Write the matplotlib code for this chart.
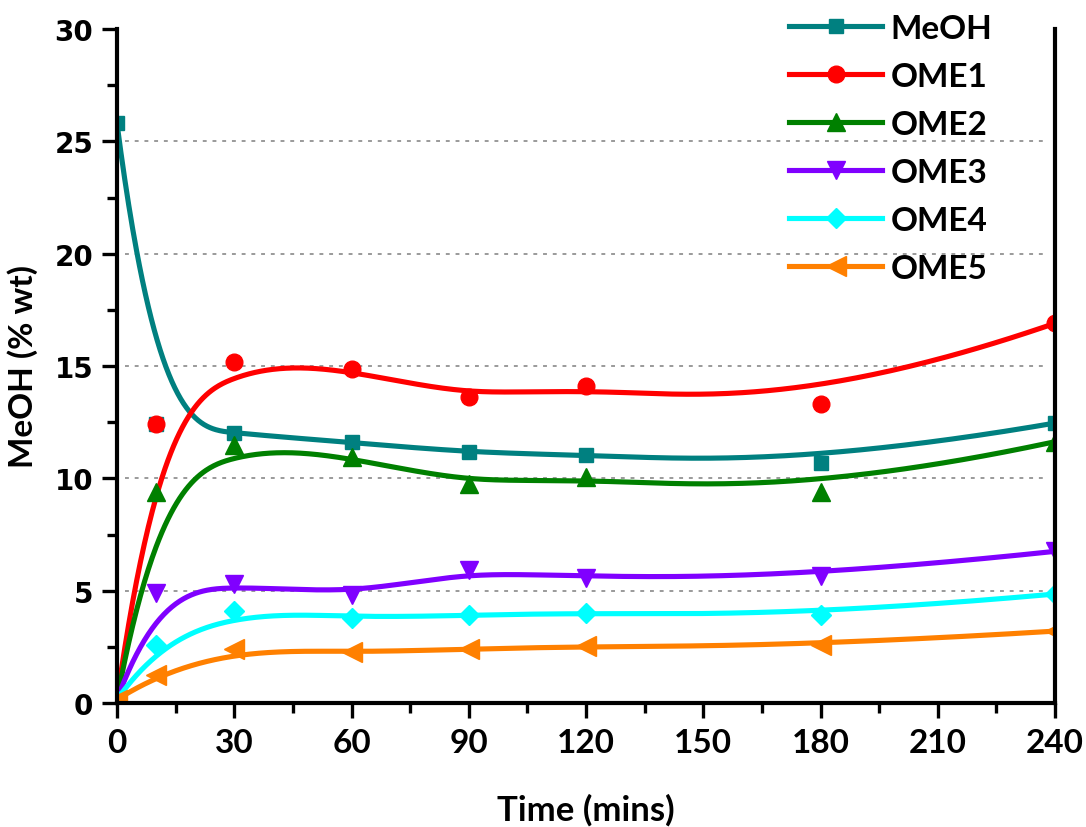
import numpy as np
import matplotlib
matplotlib.use("Agg")
import matplotlib.pyplot as plt
from matplotlib.ticker import MultipleLocator

# ---- data ----
time_min = [0, 10, 30, 60, 90, 120, 180, 240]
meoh = [25.8, 12.4, 12.0, 11.6, 11.15, 11.03, 10.67, 12.46]
ome1 = [0.15, 12.4, 15.2, 14.85, 13.6, 14.1, 13.3, 16.9]
ome2 = [0.15, 9.4, 11.5, 10.95, 9.75, 10.05, 9.4, 11.63]
ome3 = [0.15, 4.9, 5.3, 4.8, 5.9, 5.55, 5.65, 6.75]
ome4 = [0.15, 2.6, 4.1, 3.8, 3.9, 4.02, 3.92, 4.85]
ome5 = [0.15, 1.25, 2.4, 2.25, 2.4, 2.52, 2.56, 3.2]

series_names = ["MeOH", "OME1", "OME2", "OME3", "OME4", "OME5"]
series_vals = [meoh, ome1, ome2, ome3, ome4, ome5]
colors = ["#008080", "#FF0000", "#008000", "#8000FF", "#00FFFF", "#FF8000"]
markers = ["s", "o", "^", "v", "D", "<"]
msizes = [10.5, 12, 13.5, 13.5, 10, 14]

grid_levels = [5, 10, 15, 20, 25]
xticks = [0, 30, 60, 90, 120, 150, 180, 210, 240]
yticks = [0, 5, 10, 15, 20, 25, 30]


def bspline_curve(xs, ys, k=3, num=600):
    """Clamped cubic B-spline using the data points as control points."""
    P = np.column_stack([xs, ys]).astype(float)
    m = len(P)
    knots = np.concatenate([np.zeros(k), np.linspace(0, 1, m - k + 1), np.ones(k)])
    t = np.linspace(0, 1, num)
    t[-1] -= 1e-10
    N = np.array([((knots[i] <= t) & (t < knots[i + 1])).astype(float)
                  for i in range(len(knots) - 1)])
    for d in range(1, k + 1):
        Nn = np.zeros((len(knots) - 1 - d, num))
        for i in range(len(knots) - 1 - d):
            a = knots[i + d] - knots[i]
            b = knots[i + d + 1] - knots[i + 1]
            term = np.zeros(num)
            if a > 0:
                term += (t - knots[i]) / a * N[i]
            if b > 0:
                term += (knots[i + d + 1] - t) / b * N[i + 1]
            Nn[i] = term
        N = Nn
    C = N.T @ P
    return C[:, 0], C[:, 1]


label_font = ["Lato", "DejaVu Sans"]

fig = plt.figure(figsize=(10.86, 8.28), dpi=100)
ax = fig.add_axes([117 / 1086, 1 - 704 / 828, (1055 - 117) / 1086, (704 - 30) / 828])

for lv in grid_levels:
    ax.hlines(lv, 2, 238, colors="#9a9a9a", linestyles=(0, (2, 3)), linewidth=1.4, zorder=1)

for name, vals, c, mk, ms in zip(series_names, series_vals, colors, markers, msizes):
    cx, cy = bspline_curve(time_min, vals)
    ax.plot(cx, cy, color=c, lw=3.7, zorder=2, solid_capstyle="round")
    ax.plot(time_min, vals, linestyle="none", marker=mk, ms=ms, color=c, zorder=2)
    ax.plot([], [], color=c, lw=3.7, marker=mk, ms=ms, label=name)

ax.set_xlim(0, 240)
ax.set_ylim(0, 30)
ax.set_xticks(xticks)
ax.set_yticks(yticks)
ax.xaxis.set_minor_locator(MultipleLocator(15))
ax.yaxis.set_minor_locator(MultipleLocator(2.5))

for s in ["left", "bottom", "right"]:
    ax.spines[s].set_linewidth(3)
ax.spines["top"].set_visible(False)

ax.tick_params(which="major", direction="out", length=11, width=2.4, right=False, top=False)
ax.tick_params(which="minor", direction="out", length=7, width=2.4, right=False, top=False)
ax.tick_params(axis="y", which="major", pad=6)
ax.tick_params(axis="x", which="major", pad=7)

for lab in ax.get_yticklabels():
    lab.set_fontfamily(["DejaVu Sans"])
    lab.set_fontweight("bold")
    lab.set_fontsize(20)
for lab in ax.get_xticklabels():
    lab.set_fontfamily(label_font)
    lab.set_fontweight("bold")
    lab.set_fontsize(24)

ax.set_xlabel("Time (mins)", fontfamily=label_font, fontweight="bold", fontsize=25, labelpad=26)
ax.set_ylabel("MeOH (% wt)", fontfamily=label_font, fontweight="bold", fontsize=24, labelpad=12)

leg = ax.legend(loc="upper left", bbox_to_anchor=(789 / 1086, 1 - 15 / 828),
                bbox_transform=fig.transFigure, frameon=False,
                prop={"family": label_font, "weight": "bold", "size": 24},
                handlelength=2.8, handletextpad=0.25, labelspacing=0.57,
                borderpad=0, borderaxespad=0, numpoints=1)

fig.savefig("out.png", dpi=100)
